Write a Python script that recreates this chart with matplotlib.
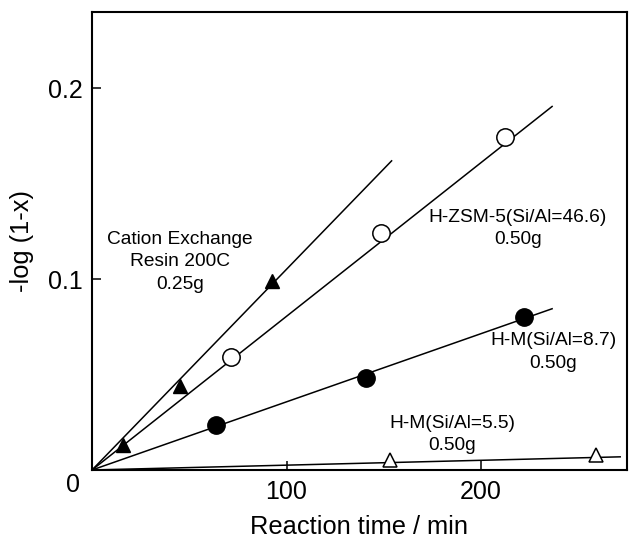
import numpy as np
import matplotlib; matplotlib.use('Agg'); import matplotlib.pyplot as plt
plt.rcParams['font.family']=['Liberation Sans','DejaVu Sans']

# 데이터
resin_t=[16,45,92.5]; resin_y=[0.013,0.044,0.099]; resin_fit=[0,154]; resin_fy=[0,0.162]
zsm_t=[71.5,148.6,212.3]; zsm_y=[0.059,0.124,0.1745]; zsm_fit=[0,236.5]; zsm_fy=[0,0.1905]
hm87_t=[63.8,140.9,222]; hm87_y=[0.0235,0.048,0.080]; hm87_fit=[0,236.5]; hm87_fy=[0,0.0845]
hm55_t=[153,259]; hm55_y=[0.005,0.0078]; hm55_fit=[0,271.5]; hm55_fy=[0,0.0069]
xticks=[100,200]; yticks=[0.1,0.2]

fig=plt.figure(figsize=(6.32,5.44),dpi=100)
ax=fig.add_axes([92/632,74/544,535/632,458/544])
lw=1.1
for fx,fy in [(resin_fit,resin_fy),(zsm_fit,zsm_fy),(hm87_fit,hm87_fy),(hm55_fit,hm55_fy)]:
    ax.plot(fx,fy,'k-',lw=lw)
ax.plot(resin_t,resin_y,'k^',ms=10,mec='k')
ax.plot(zsm_t,zsm_y,'o',ms=12.5,mfc='white',mec='k',mew=1.1)
ax.plot(hm87_t,hm87_y,'ko',ms=12.5)
ax.plot(hm55_t,hm55_y,'^',ms=10.5,mfc='white',mec='k',mew=1.1)

ax.set_xlim(0,275); ax.set_ylim(0,0.24)
ax.set_xticks(xticks); ax.set_yticks(yticks)
ax.set_xticklabels([str(t) for t in xticks]); ax.set_yticklabels([f'{t:.1f}' for t in yticks])
ax.tick_params(direction='in',length=6.5,width=1.1,labelsize=18,pad=7)
for s in ax.spines.values(): s.set_linewidth(1.5)
ax.text(-0.035,-0.033,'0',transform=ax.transAxes,fontsize=18,ha='center',va='center')
ax.set_xlabel('Reaction time / min',fontsize=18.3,labelpad=8)
ax.set_ylabel('-log (1-x)',fontsize=18.3,labelpad=10)

fs=13.8; ls=1.4
ax.text(45.2,0.109,'Cation Exchange\nResin 200C\n0.25g',fontsize=fs,ha='center',va='center',linespacing=ls)
ax.text(219,0.1266,'H-ZSM-5(Si/Al=46.6)\n0.50g',fontsize=fs,ha='center',va='center',linespacing=ls)
ax.text(237,0.0618,'H-M(Si/Al=8.7)\n0.50g',fontsize=fs,ha='center',va='center',linespacing=ls)
ax.text(185,0.0186,'H-M(Si/Al=5.5)\n0.50g',fontsize=fs,ha='center',va='center',linespacing=ls)

fig.savefig('out.png',dpi=100)
